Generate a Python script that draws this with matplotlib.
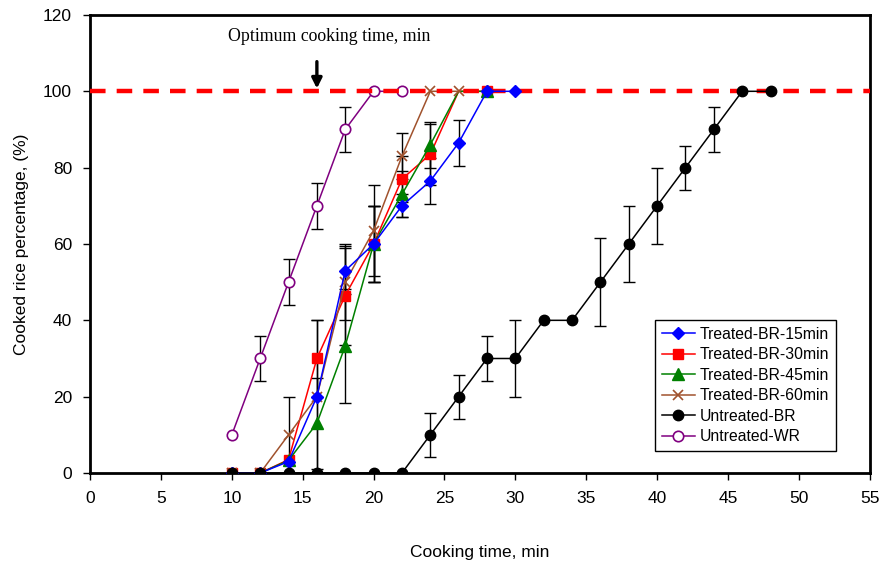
import matplotlib
matplotlib.use("Agg")
import matplotlib.pyplot as plt
import numpy as np

plt.rcParams['font.family'] = ['Liberation Sans', 'DejaVu Sans']

# Data
t15_x = [10, 12, 14, 16, 18, 20, 22, 24, 26, 28, 30]
t15_y = [0, 0, 3, 20, 53, 60, 70, 76.5, 86.5, 100, 100]
t15_e = [0, 0, 0, 0, 6, 10, 3, 6, 6, 0, 0]

t30_x = [10, 12, 14, 16, 18, 20, 22, 24, 26, 28]
t30_y = [0, 0, 3.5, 30, 46.5, 60, 77, 83.5, 100, 100]
t30_e = [0, 0, 0, 10, 13, 10, 6, 8, 0, 0]

t45_x = [10, 12, 14, 16, 18, 20, 22, 24, 26, 28]
t45_y = [0, 0, 3.3, 13, 33.3, 60, 73, 86, 100, 100]
t45_e = [0, 0, 0, 12, 15, 10, 6, 6, 0, 0]

t60_x = [10, 12, 14, 16, 18, 20, 22, 24, 26]
t60_y = [0, 0, 10, 20, 50, 63.5, 83, 100, 100]
t60_e = [0, 0, 10, 20, 10, 12, 6, 0, 0]

ubr_x = [10, 12, 14, 16, 18, 20, 22, 24, 26, 28, 30, 32, 34, 36, 38, 40, 42, 44, 46, 48]
ubr_y = [0, 0, 0, 0, 0, 0, 0, 10, 20, 30, 30, 40, 40, 50, 60, 70, 80, 90, 100, 100]
ubr_e = [0, 0, 0, 0, 0, 0, 0, 5.7, 5.8, 6, 10, 0, 0, 11.5, 10, 10, 5.8, 6, 0, 0]

uwr_x = [10, 12, 14, 16, 18, 20, 22]
uwr_y = [10, 30, 50, 70, 90, 100, 100]
uwr_e = [0, 6, 6, 6, 6, 0, 0]

x_ticks = list(range(0, 56, 5))
y_ticks = list(range(0, 121, 20))

fig = plt.figure(figsize=(8.83, 5.69), dpi=100)
ax = fig.add_axes([0.102, 0.1687, 0.883, 0.805])

series = [
    ("Treated-BR-15min", t15_x, t15_y, t15_e, dict(color='#0000FF', marker='D', ms=6.5, mfc='#0000FF', mec='#0000FF'), 4, None),
    ("Treated-BR-30min", t30_x, t30_y, t30_e, dict(color='#FF0000', marker='s', ms=7, mfc='#FF0000', mec='#FF0000'), 3, [26]),
    ("Treated-BR-45min", t45_x, t45_y, t45_e, dict(color='#008000', marker='^', ms=8, mfc='#008000', mec='#008000'), 3, [26]),
    ("Treated-BR-60min", t60_x, t60_y, t60_e, dict(color='#A0522D', marker='x', ms=7, mew=1.2), 3, None),
    ("Untreated-BR", ubr_x, ubr_y, ubr_e, dict(color='#000000', marker='o', ms=7.5, mfc='#000000', mec='#000000'), 4, None),
    ("Untreated-WR", uwr_x, uwr_y, uwr_e, dict(color='#800080', marker='o', ms=7.5, mfc='white', mec='#800080', mew=1.2), 3, None),
]

for label, xs, ys, es, style, z, hide in series:
    xs = np.array(xs); ys = np.array(ys); es = np.array(es)
    m = es > 0
    if m.any():
        ax.errorbar(xs[m], ys[m], yerr=es[m], fmt='none', ecolor='black', elinewidth=1.0,
                    capsize=4, capthick=1.0, zorder=2)
    me = [i for i, xv in enumerate(xs) if not (hide and xv in hide)]
    ax.plot(xs, ys, lw=1.1, label=label, zorder=z, markevery=me, **style)

ax.axhline(100, color='#FF0000', lw=3.2, ls=(0, (3.5, 2.5)), zorder=3.5)

ax.annotate('', xy=(16, 100), xytext=(16, 108.5),
            arrowprops=dict(arrowstyle='-|>', color='black', lw=2.4, mutation_scale=15), zorder=6)
ax.text(16.9, 114.3, 'Optimum cooking time, min', ha='center', va='center',
        fontsize=12.8, family=['Liberation Serif', 'DejaVu Serif'])

ax.set_xlim(0, 55)
ax.set_ylim(0, 120)
ax.set_xticks(x_ticks)
ax.set_yticks(y_ticks)
ax.tick_params(direction='out', length=5, width=1, labelsize=12.5, pad=8)
for s in ax.spines.values():
    s.set_linewidth(2)

ax.set_xlabel('Cooking time, min', fontsize=12.5, labelpad=28)
ax.set_ylabel('Cooked rice percentage, (%)', fontsize=12.5, labelpad=10)

leg = ax.legend(loc='lower right', bbox_to_anchor=(0.967, 0.03), fontsize=11.3,
                frameon=True, fancybox=False, edgecolor='black', framealpha=1,
                handlelength=2.1, borderpad=0.45, labelspacing=0.35, handletextpad=0.3)
leg.get_frame().set_linewidth(1)

fig.savefig('out.png', dpi=100)
